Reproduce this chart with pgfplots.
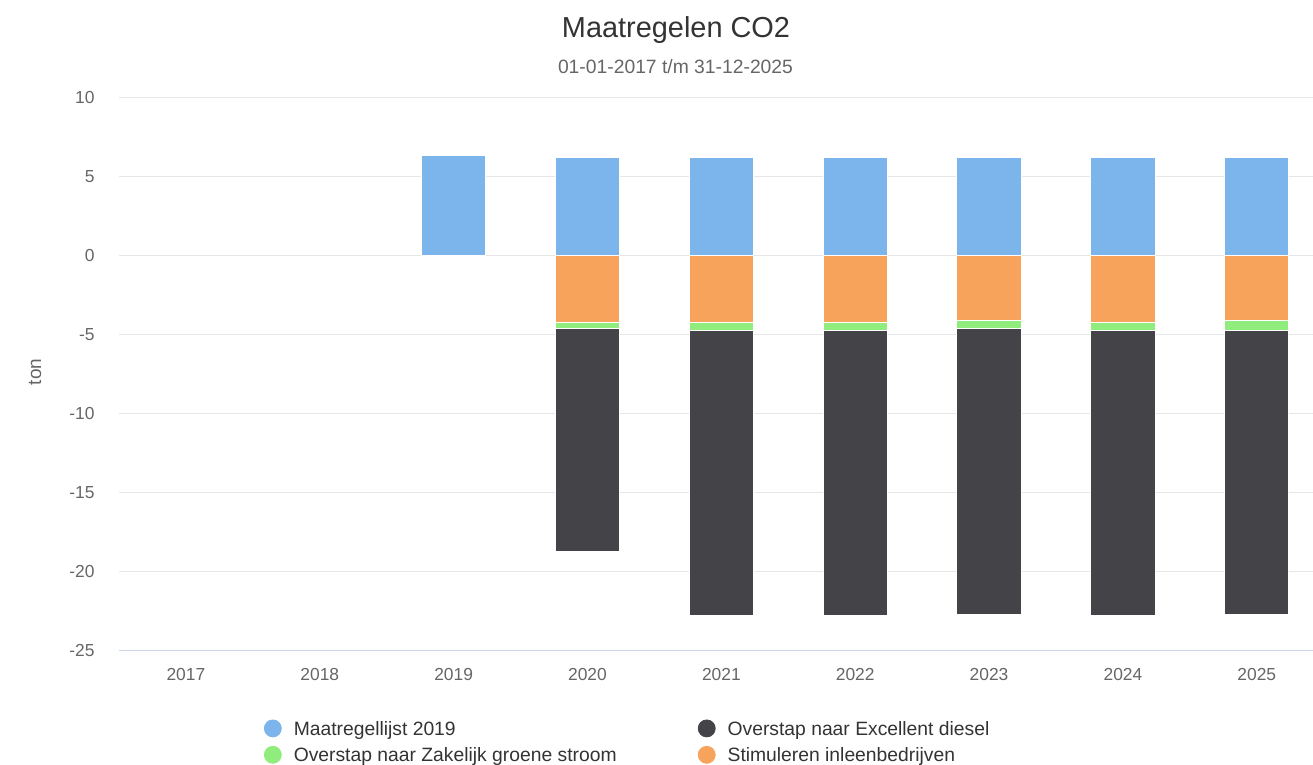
\documentclass[border=0pt]{standalone}
\usepackage{pgfplots}
\pgfplotsset{compat=1.18}
\usepackage{fontspec}
\setmainfont{Liberation Sans}
\definecolor{cblue}{HTML}{7CB5EC}
\definecolor{cdark}{HTML}{434348}
\definecolor{cgreen}{HTML}{90ED7D}
\definecolor{corange}{HTML}{F7A35C}
\definecolor{ctitle}{HTML}{333333}
\definecolor{clabel}{HTML}{666666}
\definecolor{cgrid}{HTML}{E6E6E6}
\definecolor{caxis}{HTML}{CCD6EB}
\begin{document}
\begin{tikzpicture}
\path[use as bounding box] (0,0) rectangle (656.5pt,382.5pt);
\clip (0,0) rectangle (656.5pt,382.5pt);
\pgfplotsset{common/.style={at={(59.5pt,57pt)}, anchor=south west, scale only axis,
  width=597pt, height=276.5pt, xmin=-0.5, xmax=8.42, ymin=-25, ymax=10, bar width=0.48}}
\begin{axis}[common, ybar,
  axis x line*=bottom, axis y line*=left,
  x axis line style={draw=caxis, line width=0.5pt},
  y axis line style={draw=none},
  major tick length=0pt,
  ymajorgrids, grid style={draw=cgrid, line width=0.5pt},
  xtick={0,...,8}, xticklabels={2017,2018,2019,2020,2021,2022,2023,2024,2025},
  ytick={-25,-20,-15,-10,-5,0,5,10}, yticklabels={-25,-20,-15,-10,-5,0,5,10},
  tick label style={font=\fontsize{8.7}{10}\selectfont, text=clabel},
  yticklabel style={inner sep=0pt, xshift=-12pt},
  xticklabel style={inner sep=0pt, yshift=-8.4pt},
  ]
\addplot[fill=cblue, draw=white, line width=0.5pt] coordinates {
  (2,6.33) (3,6.24) (4,6.24) (5,6.24) (6,6.24) (7,6.24) (8,6.24)};
\end{axis}
\begin{axis}[common, ybar stacked, hide axis,
  legend columns=2, legend cell align=left,
  legend style={at={(0.1214,-0.1239)}, anchor=north west, draw=none, fill=none,
    inner sep=0pt, outer sep=0pt, font=\fontsize{9.65}{11}\selectfont, text=ctitle,
    column sep=6pt, row sep=3.45pt,
    nodes={inner sep=0pt, text height=7pt, text depth=2pt},
    /tikz/every even column/.append style={column sep=40.6pt}},
  ]
\addplot[fill=corange, draw=white, line width=0.5pt, forget plot] coordinates {
  (3,-4.18) (4,-4.18) (5,-4.18) (6,-4.07) (7,-4.18) (8,-4.07)};
\addplot[fill=cgreen, draw=white, line width=0.5pt, forget plot] coordinates {
  (3,-0.40) (4,-0.51) (5,-0.51) (6,-0.52) (7,-0.51) (8,-0.62)};
\addplot[fill=cdark, draw=white, line width=0.5pt, forget plot] coordinates {
  (3,-14.15) (4,-18.09) (5,-18.09) (6,-18.09) (7,-18.09) (8,-17.99)};
\addlegendimage{legend image code/.code={\fill[cblue] (4.25pt,0.8pt) circle (4.25pt);}}
\addlegendentry{Maatregellijst 2019}
\addlegendimage{legend image code/.code={\fill[cdark] (4.25pt,0.8pt) circle (4.25pt);}}
\addlegendentry{Overstap naar Excellent diesel}
\addlegendimage{legend image code/.code={\fill[cgreen] (4.25pt,0.8pt) circle (4.25pt);}}
\addlegendentry{Overstap naar Zakelijk groene stroom}
\addlegendimage{legend image code/.code={\fill[corange] (4.25pt,0.8pt) circle (4.25pt);}}
\addlegendentry{Stimuleren inleenbedrijven}
\end{axis}
\node[anchor=base, font=\fontsize{14.45}{17}\selectfont, text=ctitle] at (338pt,363.5pt) {Maatregelen CO2};
\node[anchor=base, font=\fontsize{9.65}{11}\selectfont, text=clabel] at (337.75pt,345.5pt) {01-01-2017 t/m 31-12-2025};
\node[rotate=90, font=\fontsize{9.5}{11}\selectfont, text=clabel] at (17.5pt,196.5pt) {ton};
\end{tikzpicture}
\end{document}
